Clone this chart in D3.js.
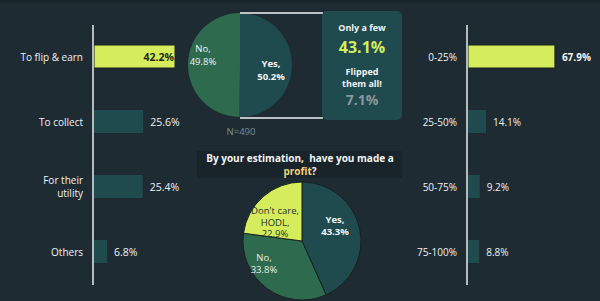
<!DOCTYPE html>
<html>
<head>
<meta charset="utf-8">
<script src="https://cdn.jsdelivr.net/npm/d3@7"></script>
<style>
  html, body { margin: 0; padding: 0; background: #1f2b33; }
  svg { display: block; font-family: "Open Sans", "Noto Sans", sans-serif; }
</style>
</head>
<body>
<div id="chart"></div>
<script>
// reasons for buying (left bars)
var reasonCats = ["To flip & earn", "To collect", "For their utility", "Others"];
var reasonVals = [42.2, 25.6, 25.4, 6.8];

// share flipped (right bars)
var flipCats = ["0-25%", "25-50%", "50-75%", "75-100%"];
var flipVals = [67.9, 14.1, 9.2, 8.8];

// have you flipped? (top pie)
var flippedLabels = ["Yes", "No"];
var flippedVals = [50.2, 49.8];
var sampleText = "N=490";

// callout box
var calloutLabels = ["Only a few", "Flipped them all!"];
var calloutVals = [43.1, 7.1];

// made a profit? (bottom pie)
var profitLabels = ["Yes", "No", "Don't care, HODL"];
var profitVals = [43.3, 33.8, 22.9];

var W = 600, H = 301;
var bg = "#1f2b33", teal = "#1f4a4e", green = "#2e6a4e", lime = "#d5ec5c";

var svg = d3.select("#chart").append("svg")
    .attr("width", W)
    .attr("height", H);

svg.append("rect").attr("width", W).attr("height", H).attr("fill", bg);
svg.append("rect").attr("width", W).attr("height", 3).attr("fill", "#1a242b");

// ---------- bar charts ----------
var drawBars = function (cats, vals, x0, pxPerPct, labelLines) {
    var y = d3.scaleBand().domain(cats).range([24, 284]).paddingInner(0.646).paddingOuter(0.323);
    var x = d3.scaleLinear().domain([0, 100]).range([x0 + 1, x0 + 1 + pxPerPct * 100]);
    var maxV = d3.max(vals);
    var g = svg.append("g");

    g.selectAll("rect.bar")
        .data(vals)
        .enter()
        .append("rect")
        .attr("class", "bar")
        .attr("x", x(0))
        .attr("y", function (d, i) { return y(cats[i]); })
        .attr("width", function (d) { return x(d) - x(0); })
        .attr("height", y.bandwidth())
        .attr("fill", function (d) { return d === maxV ? lime : teal; })
        .attr("stroke", function (d) { return d === maxV ? "#17241c" : "none"; })
        .attr("stroke-width", 1);

    g.append("line")
        .attr("x1", x0).attr("x2", x0)
        .attr("y1", 25).attr("y2", 285)
        .attr("stroke", "#e8eef0").attr("stroke-width", 1.5);

    // category labels
    cats.forEach(function (c, i) {
        var lines = labelLines[i];
        var cy = y(c) + y.bandwidth() / 2;
        var t = g.append("text")
            .attr("text-anchor", "end")
            .attr("fill", "#eef2f2")
            .attr("font-size", 10);
        lines.forEach(function (ln, j) {
            t.append("tspan")
                .attr("x", x0 - 10)
                .attr("y", cy + 4 + (j - (lines.length - 1) / 2) * 13)
                .text(ln);
        });
    });

    return { g: g, x: x, y: y, maxV: maxV };
};

var left = drawBars(reasonCats, reasonVals, 93, 1.92,
    [["To flip & earn"], ["To collect"], ["For their", "utility"], ["Others"]]);

left.g.selectAll("text.val")
    .data(reasonVals)
    .enter()
    .append("text")
    .attr("class", "val")
    .attr("x", function (d) { return d === left.maxV ? left.x(d) - 1 : left.x(d) + 7; })
    .attr("y", function (d, i) { return left.y(reasonCats[i]) + left.y.bandwidth() / 2 + 4; })
    .attr("text-anchor", function (d) { return d === left.maxV ? "end" : "start"; })
    .attr("fill", function (d) { return d === left.maxV ? "#1c2a22" : "#eef2f2"; })
    .attr("font-weight", function (d) { return d === left.maxV ? 700 : 400; })
    .attr("font-size", 10.5)
    .text(function (d) { return d.toFixed(1) + "%"; });

var right = drawBars(flipCats, flipVals, 467, 1.28,
    flipCats.map(function (c) { return [c]; }));

right.g.selectAll("text.val")
    .data(flipVals)
    .enter()
    .append("text")
    .attr("class", "val")
    .attr("x", function (d) { return right.x(d) + 7; })
    .attr("y", function (d, i) { return right.y(flipCats[i]) + right.y.bandwidth() / 2 + 4; })
    .attr("fill", "#eef2f2")
    .attr("font-weight", function (d) { return d === right.maxV ? 700 : 400; })
    .attr("font-size", 10)
    .text(function (d) { return d.toFixed(1) + "%"; });

// ---------- top pie ----------
var pie = d3.pie().sort(null);
var topR = 52, topC = [240, 65];
var arcTop = d3.arc().innerRadius(0).outerRadius(topR);
var topG = svg.append("g").attr("transform", "translate(" + topC + ")");
var topColors = [teal, green];

topG.selectAll("path")
    .data(pie(flippedVals))
    .enter()
    .append("path")
    .attr("d", arcTop)
    .attr("fill", function (d, i) { return topColors[i]; });

var topLabelPos = [[31, 2], [-37, -13]];
topG.selectAll("text.lbl")
    .data(flippedVals)
    .enter()
    .append("text")
    .attr("class", "lbl")
    .attr("text-anchor", "middle")
    .attr("fill", "#f2f5f5")
    .attr("font-size", 9.5)
    .attr("font-weight", function (d, i) { return i === 0 ? 700 : 400; })
    .each(function (d, i) {
        var t = d3.select(this);
        t.append("tspan").attr("x", topLabelPos[i][0]).attr("y", topLabelPos[i][1]).text(flippedLabels[i] + ",");
        t.append("tspan").attr("x", topLabelPos[i][0]).attr("y", topLabelPos[i][1] + 13).text(d.toFixed(1) + "%");
    });

// bracket lines to callout
svg.append("line").attr("x1", 240).attr("x2", 323).attr("y1", 13).attr("y2", 13)
    .attr("stroke", "#f2f5f5").attr("stroke-width", 1.5);
svg.append("line").attr("x1", 240).attr("x2", 323).attr("y1", 118).attr("y2", 118)
    .attr("stroke", "#f2f5f5").attr("stroke-width", 1.5);

svg.append("text")
    .attr("x", 241).attr("y", 135)
    .attr("text-anchor", "middle")
    .attr("fill", "#7d8b91")
    .attr("font-size", 9.5)
    .text(sampleText);

// ---------- callout box ----------
var box = svg.append("g");
box.append("rect")
    .attr("x", 322).attr("y", 11).attr("width", 80).attr("height", 109)
    .attr("rx", 5).attr("fill", teal);

box.append("text")
    .attr("x", 362).attr("y", 31)
    .attr("text-anchor", "middle").attr("fill", "#f2f5f5")
    .attr("font-size", 9).attr("font-weight", 700)
    .text(calloutLabels[0]);
box.append("text")
    .attr("x", 362).attr("y", 53)
    .attr("text-anchor", "middle").attr("fill", lime)
    .attr("font-size", 16).attr("font-weight", 700)
    .text(calloutVals[0].toFixed(1) + "%");
var fl = box.append("text")
    .attr("text-anchor", "middle").attr("fill", "#f2f5f5")
    .attr("font-size", 9).attr("font-weight", 700);
fl.append("tspan").attr("x", 362).attr("y", 75).text("Flipped");
fl.append("tspan").attr("x", 362).attr("y", 87).text("them all!");
box.append("text")
    .attr("x", 362).attr("y", 105)
    .attr("text-anchor", "middle").attr("fill", "#8a989c")
    .attr("font-size", 14).attr("font-weight", 700)
    .text(calloutVals[1].toFixed(1) + "%");

// ---------- title ----------
svg.append("rect")
    .attr("x", 197).attr("y", 151).attr("width", 205).attr("height", 27)
    .attr("fill", "#19232a");
var title = svg.append("text")
    .attr("text-anchor", "middle").attr("fill", "#f2f5f5")
    .attr("font-size", 10).attr("font-weight", 700);
title.append("tspan").attr("x", 300).attr("y", 162).attr("xml:space", "preserve")
    .text("By your estimation,  have you made a");
var t2 = title.append("tspan").attr("x", 300).attr("y", 175);
t2.append("tspan").attr("fill", "#f0d27c").text("profit");
t2.append("tspan").text("?");

// ---------- bottom pie ----------
var botR = 59, botC = [302, 241];
var arcBot = d3.arc().innerRadius(0).outerRadius(botR);
var botG = svg.append("g").attr("transform", "translate(" + botC + ")");
var botColors = [teal, green, lime];

botG.selectAll("path")
    .data(pie(profitVals))
    .enter()
    .append("path")
    .attr("d", arcBot)
    .attr("fill", function (d, i) { return botColors[i]; })
    .attr("stroke", "#16221f")
    .attr("stroke-width", 1);

var botLabels = [
    { pos: [33, -18], lines: [profitLabels[0] + ",", profitVals[0].toFixed(1) + "%"], fill: "#f2f5f5", w: 700 },
    { pos: [-38, 20], lines: [profitLabels[1] + ",", profitVals[1].toFixed(1) + "%"], fill: "#e6f0ea", w: 400 },
    { pos: [-27, -27], lines: ["Don't care,", "HODL,", profitVals[2].toFixed(1) + "%"], fill: "#26342a", w: 400 }
];
botG.selectAll("text.lbl")
    .data(botLabels)
    .enter()
    .append("text")
    .attr("class", "lbl")
    .attr("text-anchor", "middle")
    .attr("fill", function (d) { return d.fill; })
    .attr("font-weight", function (d) { return d.w; })
    .attr("font-size", 9.5)
    .each(function (d) {
        var t = d3.select(this);
        d.lines.forEach(function (ln, j) {
            t.append("tspan").attr("x", d.pos[0]).attr("y", d.pos[1] + j * 11.5).text(ln);
        });
    });
</script>
</body>
</html>
